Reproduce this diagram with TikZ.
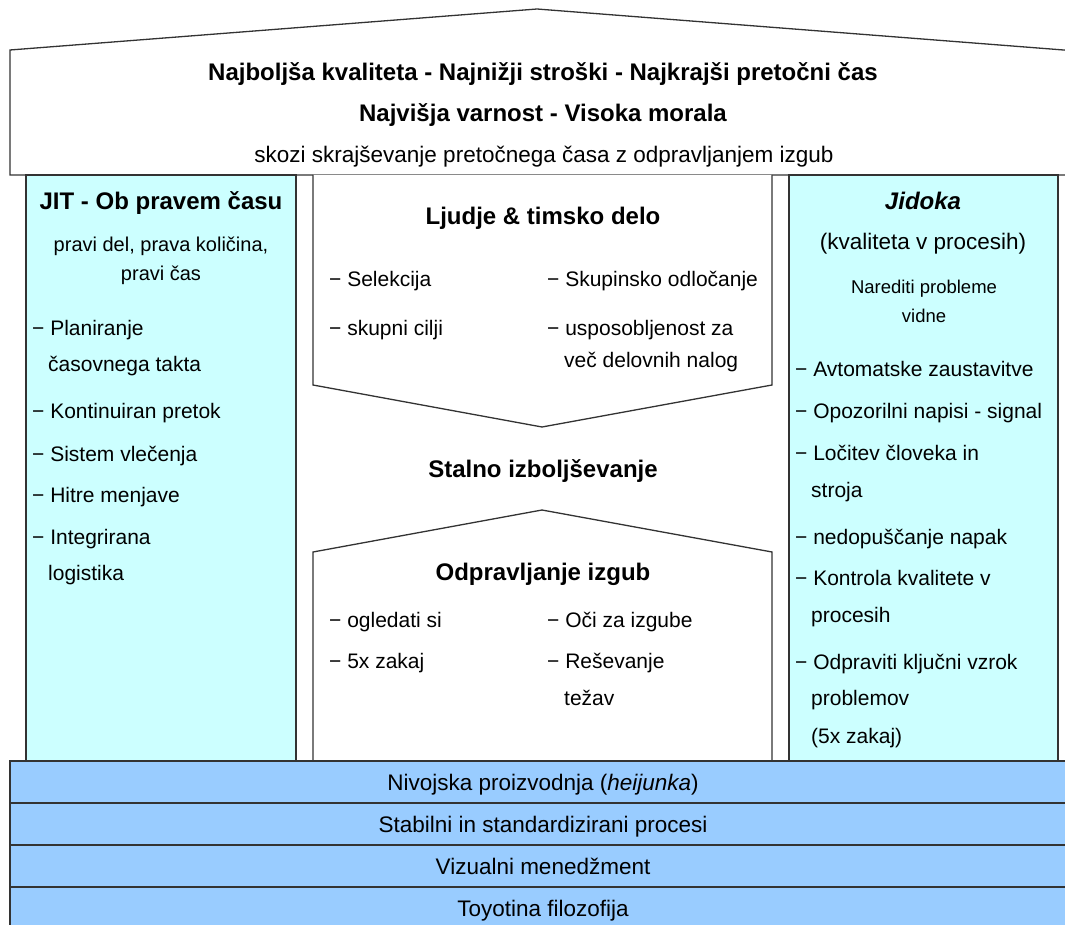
\documentclass[tikz,border=0pt]{standalone}
\usepackage{fontspec}
\setmainfont{Liberation Sans}
\definecolor{pillar}{HTML}{CCFFFF}
\definecolor{basecol}{HTML}{99CCFF}
\definecolor{edge}{HTML}{333333}
\tikzset{
  ln/.style={draw=edge, line width=1.3pt},
  ttl/.style={font=\fontsize{24}{28}\selectfont\bfseries, inner sep=0pt, anchor=base},
  big/.style={font=\fontsize{22.5}{27}\selectfont, inner sep=0pt, anchor=base},
  itm/.style={font=\fontsize{21}{25}\selectfont, inner sep=0pt, anchor=base west},
  sml/.style={font=\fontsize{20}{24}\selectfont, inner sep=0pt, anchor=base},
  smaller/.style={font=\fontsize{18.5}{22}\selectfont, inner sep=0pt, anchor=base},
  bartxt/.style={font=\fontsize{22.5}{27}\selectfont, inner sep=0pt, anchor=base},
}
\begin{document}
\begin{tikzpicture}[x=1pt,y=-1pt]
\useasboundingbox (0,0) rectangle (1065,925);
% roof
\fill[white] (10,50) -- (537,9) -- (1070,50.5) -- (1070,175) -- (10,175) -- cycle;
\draw[ln] (1070,50.5) -- (537,9) -- (10,50) -- (10,175) -- (1070,175);
% pillars
\draw[ln, fill=pillar] (26,175) rectangle (296,761);
\draw[ln, fill=pillar] (789,175) rectangle (1058,761);
% chevrons
\draw[ln, fill=white] (313,175) -- (313,385) -- (542,427) -- (772,385) -- (772,175);
\draw[ln, fill=white] (313,761) -- (313,552) -- (542,510) -- (772,552) -- (772,761);
% base bars
\draw[ln, fill=basecol] (10,761) rectangle (1070,803);
\draw[ln, fill=basecol] (10,803) rectangle (1070,845);
\draw[ln, fill=basecol] (10,845) rectangle (1070,887);
\draw[ln, fill=basecol] (10,887) rectangle (1070,930);
% roof texts
\node[ttl] (goal1) at (543,81) {Najboljša kvaliteta - Najnižji stroški - Najkrajši pretočni čas};
\node[ttl] (goal2) at (543,122) {Najvišja varnost - Visoka morala};
\node[big] (goal3) at (544,163) {skozi skrajševanje pretočnega časa z odpravljanjem izgub};
% left pillar
\node[ttl] (jit) at (161,210) {JIT - Ob pravem času};
\node[sml] (jita) at (161,252) {pravi del, prava količina,};
\node[sml] (jitb) at (161,280) {pravi čas};
\node[itm] (l1) at (32,335) {− Planiranje};
\node[itm] (l1b) at (48,371) {časovnega takta};
\node[itm] (l2) at (32,418) {− Kontinuiran pretok};
\node[itm] (l3) at (32,461) {− Sistem vlečenja};
\node[itm] (l4) at (32,502) {− Hitre menjave};
\node[itm] (l5) at (32,544) {− Integrirana};
\node[itm] (l5b) at (48,580) {logistika};
% middle
\node[ttl] (ppl) at (543,225) {Ljudje \& timsko delo};
\node[itm] (m1) at (329,287) {− Selekcija};
\node[itm] (m2) at (547,287) {− Skupinsko odločanje};
\node[itm] (m3) at (329,335) {− skupni cilji};
\node[itm] (m4) at (547,335) {− usposobljenost za};
\node[itm] (m4b) at (564,367) {več delovnih nalog};
\node[ttl] (ci) at (543,477) {Stalno izboljševanje};
\node[ttl] (waste) at (543,580) {Odpravljanje izgub};
\node[itm] (w1) at (329,627) {− ogledati si};
\node[itm] (w2) at (547,627) {− Oči za izgube};
\node[itm] (w3) at (329,668) {− 5x zakaj};
\node[itm] (w4) at (547,668) {− Reševanje};
\node[itm] (w4b) at (564,705) {težav};
% right pillar
\node[ttl] (jid) at (923,210) {\itshape Jidoka};
\node[big] (jida) at (923,250) {(kvaliteta v procesih)};
\node[smaller] (jidb) at (924,294) {Narediti probleme};
\node[smaller] (jidc) at (924,322) {vidne};
\node[itm] (r1) at (795,376) {− Avtomatske zaustavitve};
\node[itm] (r2) at (795,418) {− Opozorilni napisi - signal};
\node[itm] (r3) at (795,460) {− Ločitev človeka in};
\node[itm] (r3b) at (811,497) {stroja};
\node[itm] (r4) at (795,544) {− nedopuščanje napak};
\node[itm] (r5) at (795,585) {− Kontrola kvalitete v};
\node[itm] (r5b) at (811,622) {procesih};
\node[itm] (r6) at (795,669) {− Odpraviti ključni vzrok};
\node[itm] (r6b) at (811,705) {problemov};
\node[itm] (r6c) at (811,743) {(5x zakaj)};
% base texts
\node[bartxt] (b1) at (543,790) {Nivojska proizvodnja (\textit{heijunka})};
\node[bartxt] (b2) at (543,832) {Stabilni in standardizirani procesi};
\node[bartxt] (b3) at (543,874) {Vizualni menedžment};
\node[bartxt] (b4) at (543,916) {Toyotina filozofija};
\end{tikzpicture}
\end{document}
